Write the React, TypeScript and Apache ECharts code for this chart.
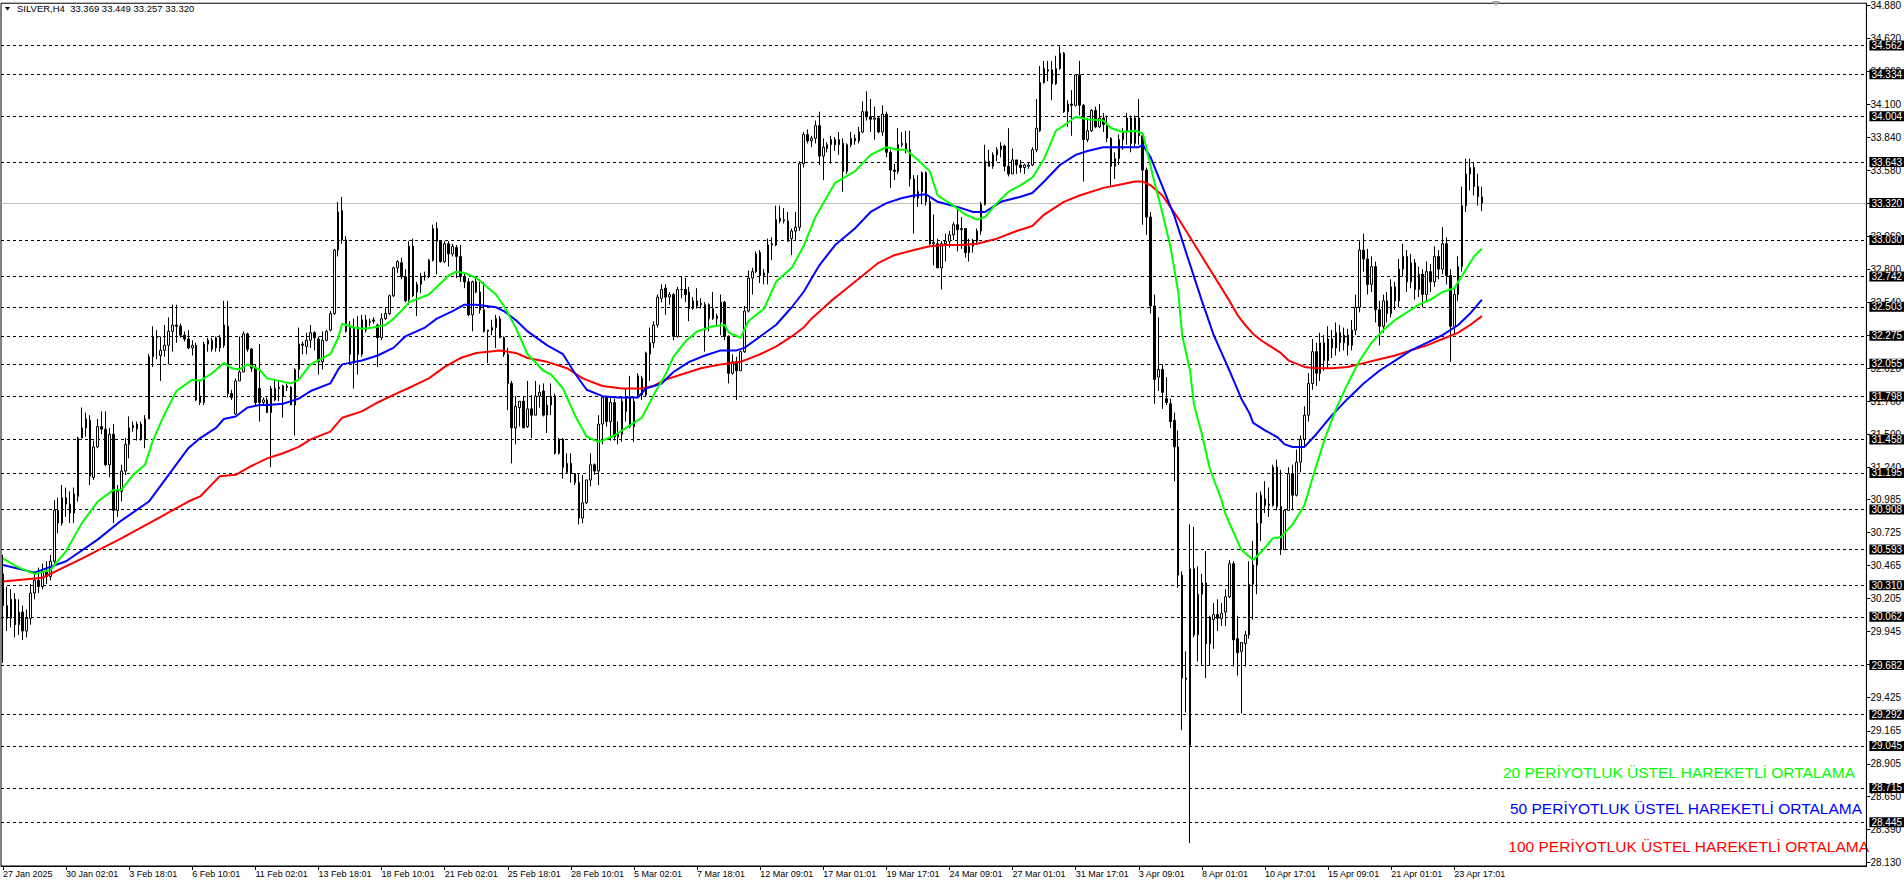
import React, { useEffect, useRef } from "react";
import * as echarts from "echarts";

const FONT = '"Liberation Sans", Arial, sans-serif';

// [open, high, low, close] per H4 bar, 27 Jan 2025 -> 23 Apr 2025
const ohlc: number[][] = [
  [30.40,30.55,29.70,30.15],[30.15,30.30,29.95,30.05],[30.05,30.28,29.98,30.20],[30.20,30.25,29.90,30.00],[30.00,30.20,29.92,30.10],
  [30.10,30.15,29.88,29.95],[29.95,30.12,29.90,30.05],[30.05,30.32,30.00,30.25],[30.25,30.42,30.20,30.35],[30.35,30.45,30.25,30.30],
  [30.30,30.48,30.28,30.42],[30.42,30.50,30.32,30.38],[30.38,30.55,30.35,30.50],[30.50,30.98,30.48,30.90],[30.90,31.00,30.72,30.80],
  [30.80,31.10,30.78,31.00],[31.00,31.08,30.85,30.95],[30.95,31.05,30.80,30.88],[30.88,31.08,30.80,31.03],[31.01,31.48,30.97,31.47],
  [31.47,31.71,31.47,31.55],[31.55,31.67,31.48,31.62],[31.61,31.65,31.10,31.17],[31.16,31.45,31.14,31.40],[31.40,31.62,31.39,31.56],
  [31.56,31.68,31.50,31.54],[31.54,31.68,31.25,31.26],[31.26,31.55,31.16,31.50],[31.50,31.58,30.80,30.90],[30.90,31.10,30.85,31.05],
  [31.05,31.26,30.97,31.21],[31.21,31.47,31.18,31.42],[31.42,31.64,31.31,31.55],[31.55,31.60,31.52,31.57],[31.54,31.60,31.45,31.58],
  [31.58,31.60,31.45,31.46],[31.46,31.65,31.39,31.62],[31.62,32.13,31.62,32.11],[32.11,32.35,32.03,32.27],[32.26,32.32,32.09,32.27],
  [32.12,32.27,31.92,32.16],[32.16,32.36,32.11,32.20],[32.20,32.42,32.05,32.31],[32.31,32.52,32.15,32.36],[32.36,32.52,32.22,32.35],
  [32.35,32.37,32.26,32.28],[32.28,32.31,32.23,32.25],[32.25,32.32,32.17,32.18],[32.18,32.24,32.12,32.20],[32.20,32.22,31.76,31.77],
  [31.80,31.93,31.73,31.75],[31.75,32.23,31.73,32.21],[32.21,32.26,32.15,32.24],[32.17,32.26,32.15,32.24],[32.18,32.27,32.15,32.26],
  [32.26,32.28,32.15,32.18],[32.20,32.55,32.18,32.36],[32.35,32.55,31.79,31.82],[31.82,31.85,31.77,31.79],[31.66,31.94,31.65,31.92],
  [31.92,32.27,31.92,31.99],[31.99,32.31,31.99,32.29],[32.29,32.30,32.15,32.17],[32.17,32.18,31.99,32.02],[32.02,32.05,31.73,31.75],
  [31.86,32.21,31.60,31.75],[31.75,31.79,31.73,31.77],[31.77,31.79,31.67,31.67],[31.67,31.88,31.24,31.86],[31.77,31.93,31.76,31.86],
  [31.86,31.92,31.76,31.87],[31.80,31.89,31.63,31.88],[31.88,31.90,31.84,31.87],[31.87,31.88,31.73,31.73],[31.73,32.02,31.49,32.01],
  [32.01,32.34,31.94,32.21],[32.20,32.23,32.13,32.21],[32.19,32.30,32.13,32.24],[32.24,32.36,32.18,32.30],[32.30,32.31,32.16,32.26],
  [32.25,32.27,31.97,32.07],[32.07,32.31,32.01,32.24],[32.24,32.32,32.23,32.31],[32.32,32.47,32.31,32.45],[32.45,32.96,32.44,32.95],
  [32.95,33.33,32.90,33.25],[33.26,33.37,33.00,33.03],[33.03,33.06,32.30,32.31],[32.34,32.39,32.06,32.13],[32.06,32.41,31.86,32.34],
  [32.34,32.43,31.97,32.13],[32.13,32.44,32.11,32.40],[32.40,32.44,32.30,32.32],[32.38,32.41,32.35,32.39],[32.40,32.42,32.37,32.39],
  [32.36,32.37,32.03,32.26],[32.26,32.45,32.24,32.41],[32.41,32.50,32.40,32.45],[32.45,32.60,32.44,32.59],[32.59,32.82,32.58,32.81],
  [32.81,32.87,32.77,32.86],[32.85,32.89,32.72,32.74],[32.74,32.80,32.54,32.55],[32.56,33.02,32.52,32.98],[32.98,33.04,32.58,32.59],
  [32.62,32.70,32.43,32.68],[32.68,32.77,32.61,32.74],[32.74,32.78,32.71,32.75],[32.75,32.88,32.73,32.87],[32.87,33.15,32.86,33.12],
  [33.12,33.17,32.76,33.02],[33.02,33.03,32.85,32.86],[32.86,33.02,32.85,33.00],[33.00,33.02,32.82,32.92],[32.92,33.00,32.90,32.98],
  [32.97,32.99,32.73,32.90],[32.90,32.99,32.70,32.74],[32.74,32.77,32.65,32.70],[32.70,32.73,32.43,32.44],[32.44,32.71,32.31,32.70],
  [32.70,32.73,32.61,32.62],[32.62,32.72,32.45,32.48],[32.48,32.70,32.30,32.31],[32.31,32.32,32.06,32.32],[32.32,32.40,32.28,32.34],
  [32.34,32.44,32.18,32.41],[32.41,32.43,32.26,32.26],[32.26,32.27,32.11,32.13],[32.13,32.18,31.69,31.90],[31.90,31.92,31.27,31.55],
  [31.55,31.80,31.42,31.72],[31.71,31.76,31.56,31.76],[31.76,31.80,31.55,31.55],[31.56,31.92,31.55,31.70],[31.70,31.81,31.47,31.65],
  [31.65,31.92,31.65,31.80],[31.80,31.89,31.71,31.83],[31.84,31.90,31.64,31.65],[31.65,31.80,31.51,31.73],[31.73,31.90,31.65,31.80],
  [31.80,31.82,31.34,31.35],[31.35,31.47,31.34,31.46],[31.46,31.47,31.15,31.24],[31.20,31.35,31.19,31.27],[31.27,31.35,31.12,31.19],
  [31.19,31.19,31.10,31.12],[31.12,31.19,30.79,30.84],[30.84,31.18,30.80,30.96],[30.96,31.14,30.95,31.14],[31.14,31.35,31.09,31.26],
  [31.26,31.27,31.18,31.21],[31.21,31.65,31.10,31.58],[31.58,31.80,31.42,31.79],[31.79,31.79,31.56,31.60],[31.60,31.79,31.45,31.75],
  [31.75,31.78,31.45,31.48],[31.48,31.60,31.42,31.50],[31.50,31.80,31.44,31.76],[31.68,31.86,31.60,31.79],[31.79,31.96,31.55,31.56],
  [31.56,31.80,31.44,31.76],[31.81,31.98,31.80,31.96],[31.94,31.96,31.77,31.81],[31.81,32.15,31.80,32.14],[32.13,32.34,31.92,32.22],
  [32.22,32.39,32.18,32.36],[32.36,32.60,32.34,32.58],[32.57,32.68,32.54,32.64],[32.65,32.68,32.44,32.58],[32.58,32.62,32.52,32.60],
  [32.60,32.61,32.24,32.27],[32.27,32.66,32.26,32.64],[32.64,32.74,32.57,32.64],[32.64,32.73,32.54,32.60],[32.62,32.66,32.39,32.49],
  [32.49,32.58,32.48,32.55],[32.55,32.65,32.49,32.51],[32.52,32.57,32.49,32.53],[32.52,32.54,32.15,32.32],[32.41,32.53,32.31,32.52],
  [32.49,32.62,32.40,32.41],[32.41,32.45,32.36,32.43],[32.38,32.60,32.28,32.54],[32.54,32.55,32.24,32.27],[32.27,32.28,31.90,31.98],
  [31.98,32.13,31.97,32.07],[32.07,32.11,31.77,32.00],[32.00,32.16,32.00,32.15],[32.15,32.51,32.14,32.47],[32.47,32.79,32.46,32.73],
  [32.73,32.81,32.60,32.78],[32.78,32.94,32.77,32.92],[32.93,32.95,32.69,32.75],[32.75,32.80,32.68,32.77],[32.77,33.04,32.68,32.99],
  [33.00,33.05,32.87,32.99],[32.99,33.30,32.98,33.19],[33.20,33.30,33.16,33.18],[33.18,33.28,33.16,33.19],[33.18,33.25,33.02,33.02],
  [33.04,33.12,32.91,33.10],[33.10,33.25,33.03,33.13],[33.13,33.65,33.10,33.63],[33.63,33.88,33.60,33.86],[33.86,33.90,33.79,33.81],
  [33.81,33.85,33.76,33.83],[33.83,33.97,33.79,33.93],[33.93,34.04,33.62,33.69],[33.69,33.83,33.50,33.76],[33.75,33.80,33.72,33.78],
  [33.78,33.85,33.63,33.82],[33.82,33.84,33.73,33.78],[33.78,33.88,33.70,33.82],[33.79,33.83,33.41,33.57],[33.57,33.79,33.55,33.78],
  [33.78,33.88,33.76,33.83],[33.83,33.86,33.78,33.81],[33.81,33.92,33.79,33.88],[33.88,34.12,33.87,34.04],[34.04,34.20,33.97,34.00],
  [34.00,34.14,33.88,33.98],[33.98,34.08,33.82,33.99],[33.99,34.00,33.87,33.88],[33.88,34.09,33.85,34.02],[34.02,34.04,33.68,33.72],
  [33.72,33.74,33.44,33.58],[33.58,33.63,33.50,33.57],[33.57,33.91,33.55,33.78],[33.78,33.88,33.76,33.79],[33.79,33.89,33.71,33.74],
  [33.74,33.89,33.45,33.51],[33.51,33.54,33.08,33.36],[33.36,33.54,33.29,33.41],[33.41,33.57,33.31,33.56],[33.56,33.57,33.30,33.33],
  [33.33,33.36,32.99,33.00],[33.00,33.23,32.83,33.01],[33.00,33.04,32.81,32.81],[32.81,33.02,32.64,33.00],[33.00,33.08,32.86,33.02],
  [33.02,33.10,32.97,33.07],[33.07,33.17,33.03,33.15],[33.15,33.28,32.94,33.11],[33.11,33.21,32.96,33.12],[33.12,33.12,32.89,32.93],
  [32.93,33.04,32.86,32.98],[32.98,33.04,32.93,33.02],[33.02,33.12,32.99,33.10],[33.10,33.33,33.07,33.31],[33.31,33.78,33.30,33.65],
  [33.65,33.74,33.61,33.61],[33.61,33.72,33.59,33.70],[33.70,33.76,33.65,33.74],[33.74,33.80,33.68,33.77],[33.77,33.78,33.57,33.61],
  [33.61,33.91,33.53,33.55],[33.55,33.75,33.55,33.66],[33.66,33.66,33.55,33.62],[33.62,33.66,33.56,33.60],[33.60,33.63,33.55,33.62],
  [33.61,33.64,33.59,33.62],[33.62,33.76,33.61,33.74],[33.74,34.14,33.72,33.91],[33.89,34.40,33.88,34.27],[34.27,34.44,34.26,34.38],
  [34.37,34.44,34.28,34.36],[34.37,34.44,34.13,34.26],[34.26,34.48,34.25,34.38],[34.38,34.56,34.37,34.50],[34.50,34.51,34.03,34.04],
  [34.04,34.13,33.92,34.10],[34.10,34.21,33.85,34.09],[34.09,34.33,34.08,34.33],[34.33,34.44,34.01,34.09],[34.09,34.10,33.49,33.82],
  [33.82,33.99,33.80,33.89],[33.89,34.06,33.88,34.05],[34.05,34.08,33.91,33.92],[33.92,34.10,33.91,33.99],[33.99,34.03,33.88,33.94],
  [33.94,34.01,33.80,33.83],[33.83,33.84,33.45,33.61],[33.61,33.72,33.51,33.67],[33.67,33.86,33.62,33.82],[33.82,33.91,33.74,33.88],
  [33.88,34.03,33.78,33.99],[33.99,34.01,33.72,33.79],[33.79,34.01,33.76,33.99],[33.99,34.14,33.78,33.85],[33.85,33.88,33.15,33.58],
  [33.58,33.60,33.07,33.21],[33.21,33.25,32.45,32.51],[32.51,32.60,31.74,31.93],[31.95,32.42,31.84,32.01],[32.01,32.05,31.70,31.83],
  [31.78,31.95,31.73,31.75],[31.74,31.78,31.55,31.60],[31.61,31.67,31.13,31.40],[31.40,31.53,30.29,30.39],[30.39,30.42,29.17,29.58],
  [29.58,29.79,29.31,29.57],[29.05,30.79,28.28,30.44],[30.44,30.77,29.90,29.92],[29.92,30.46,29.71,30.24],[30.24,30.40,29.68,30.33],
  [30.33,30.58,29.58,29.85],[29.85,30.07,29.68,30.06],[30.04,30.17,29.81,30.08],[30.08,30.20,29.95,30.05],[30.05,30.17,29.99,30.09],
  [30.10,30.28,29.99,30.22],[30.22,30.51,30.21,30.48],[30.48,30.50,29.67,29.88],[29.89,30.07,29.60,29.78],[29.79,29.86,29.30,29.86],
  [29.85,29.95,29.67,29.92],[29.92,30.50,29.89,30.32],[30.32,30.66,30.04,30.47],[30.47,31.04,30.24,30.80],[30.80,31.05,30.66,31.02],
  [30.99,31.13,30.88,30.94],[30.94,31.08,30.85,30.95],[30.94,31.26,30.93,31.24],[31.24,31.30,30.90,30.93],[30.93,31.22,30.55,30.59],
  [30.59,30.91,30.59,30.90],[30.90,31.24,30.90,31.19],[31.19,31.26,30.90,31.02],[31.02,31.38,31.01,31.28],[31.28,31.49,31.20,31.46],
  [31.46,31.72,31.40,31.65],[31.65,31.98,31.60,31.90],[31.90,32.25,31.85,32.15],[32.15,32.22,31.88,31.98],[31.98,32.30,31.92,32.22],
  [32.22,32.28,32.00,32.08],[32.08,32.35,32.02,32.25],[32.25,32.32,32.10,32.18],[32.18,32.38,32.12,32.30],[32.30,32.36,32.15,32.22],
  [32.22,32.34,32.16,32.28],[32.28,32.33,32.12,32.20],[32.20,32.40,32.16,32.32],[32.32,32.60,32.28,32.50],[32.50,33.02,32.46,32.95],
  [32.95,33.08,32.78,32.88],[32.88,32.96,32.60,32.68],[32.68,32.90,32.62,32.82],[32.82,32.86,32.38,32.48],[32.48,32.55,32.20,32.35],
  [32.35,32.60,32.30,32.55],[32.55,32.62,32.38,32.45],[32.45,32.72,32.42,32.66],[32.66,32.70,32.48,32.55],[32.55,32.88,32.50,32.80],
  [32.80,33.00,32.74,32.90],[32.90,32.95,32.62,32.70],[32.70,32.92,32.65,32.85],[32.85,32.88,32.56,32.64],[32.64,32.82,32.58,32.76],
  [32.76,32.80,32.50,32.60],[32.60,32.86,32.55,32.78],[32.78,32.84,32.62,32.70],[32.70,32.98,32.66,32.90],[32.90,32.95,32.72,32.80],
  [32.80,33.13,32.76,33.00],[33.00,33.05,32.68,32.75],[32.75,32.80,32.07,32.35],[32.35,32.66,32.28,32.60],[32.60,32.90,32.55,32.82],
  [32.82,33.45,32.78,33.30],[33.30,33.67,33.25,33.55],[33.55,33.67,33.42,33.60],[33.60,33.64,33.38,33.45],[33.45,33.55,33.30,33.37],
  [33.369,33.449,33.257,33.320],
];

// moving averages: [bar index, value]
const ema20: number[][] = [
  [0,30.52],[4,30.45],[8,30.40],[12,30.43],[16,30.58],[20,30.80],[24,30.97],[28,31.06],[30,31.06],[33,31.18],[36,31.26],[38,31.45],
  [41,31.66],[44,31.84],[48,31.93],[50,31.92],[53,31.98],[56,32.06],[58,32.02],[60,32.01],[62,32.05],[65,32.01],[67,31.94],[70,31.92],
  [73,31.90],[75,31.93],[78,32.05],[83,32.13],[85,32.26],[86,32.37],[89,32.34],[91,32.33],[94,32.34],[97,32.36],[99,32.41],[101,32.47],
  [103,32.54],[108,32.60],[110,32.66],[113,32.75],[115,32.78],[117,32.77],[120,32.73],[125,32.60],[127,32.51],[130,32.34],[133,32.13],
  [137,32.00],[139,31.97],[142,31.86],[145,31.65],[148,31.48],[151,31.44],[152,31.45],[155,31.49],[158,31.55],[162,31.63],[165,31.81],
  [168,31.97],[170,32.11],[173,32.23],[176,32.31],[180,32.35],[183,32.36],[184,32.30],[187,32.26],[189,32.39],[193,32.49],[196,32.70],
  [200,32.81],[203,32.98],[206,33.21],[211,33.48],[216,33.57],[220,33.70],[224,33.76],[227,33.74],[229,33.74],[232,33.66],[235,33.57],
  [237,33.38],[241,33.30],[244,33.23],[247,33.19],[249,33.21],[252,33.32],[255,33.41],[258,33.46],[261,33.52],[264,33.67],[267,33.89],
  [269,33.93],[272,34.00],[275,33.98],[279,33.97],[281,33.91],[284,33.88],[287,33.89],[289,33.87],[290,33.74],[291,33.61],[292,33.48],
  [294,33.24],[296,32.98],[298,32.62],[299,32.28],[301,32.00],[302,31.73],[304,31.50],[306,31.23],[309,30.98],[310,30.87],[312,30.73],
  [314,30.59],[317,30.51],[319,30.57],[322,30.68],[324,30.69],[327,30.79],[330,30.94],[332,31.15],[335,31.45],[338,31.70],[341,31.90],
  [344,32.08],[347,32.22],[350,32.32],[353,32.40],[356,32.46],[359,32.52],[362,32.56],[365,32.62],[368,32.65],[371,32.80],[373,32.90],
  [375,32.96],
];
const ema50: number[][] = [
  [0,30.47],[8,30.41],[16,30.50],[24,30.67],[30,30.82],[37,30.97],[42,31.18],[47,31.39],[50,31.47],[54,31.55],[56,31.62],[59,31.64],
  [62,31.71],[65,31.73],[67,31.73],[71,31.74],[75,31.78],[78,31.84],[83,31.90],[85,32.01],[86,32.05],[91,32.08],[95,32.12],[99,32.18],
  [102,32.27],[107,32.34],[110,32.41],[114,32.47],[117,32.52],[120,32.52],[125,32.50],[127,32.47],[130,32.40],[133,32.31],[138,32.20],
  [142,32.13],[145,31.98],[148,31.85],[152,31.80],[156,31.79],[161,31.79],[163,31.86],[167,31.90],[170,31.99],[174,32.07],[178,32.12],
  [182,32.16],[186,32.16],[188,32.18],[192,32.27],[196,32.36],[200,32.50],[203,32.62],[207,32.83],[211,32.99],[216,33.12],[220,33.25],
  [224,33.32],[228,33.36],[231,33.38],[234,33.39],[237,33.33],[242,33.29],[246,33.25],[249,33.25],[253,33.33],[258,33.37],[261,33.40],
  [264,33.49],[268,33.62],[272,33.70],[275,33.73],[279,33.76],[284,33.76],[288,33.76],[289,33.78],[291,33.68],[294,33.45],[297,33.22],
  [300,32.93],[304,32.55],[307,32.28],[309,32.14],[311,32.00],[314,31.78],[316,31.67],[317,31.59],[320,31.53],[323,31.48],[325,31.42],
  [327,31.40],[330,31.40],[333,31.50],[337,31.65],[341,31.78],[345,31.90],[349,32.00],[353,32.08],[357,32.16],[361,32.22],[365,32.28],
  [369,32.36],[372,32.45],[375,32.56],
];
const ema100: number[][] = [
  [0,30.34],[10,30.37],[20,30.52],[30,30.68],[40,30.85],[47,30.97],[50,31.01],[55,31.17],[59,31.18],[63,31.25],[67,31.31],[71,31.35],
  [75,31.40],[78,31.46],[83,31.52],[86,31.63],[91,31.68],[95,31.75],[99,31.81],[104,31.88],[108,31.94],[112,32.03],[116,32.10],
  [120,32.14],[126,32.16],[130,32.14],[133,32.10],[138,32.07],[143,32.02],[147,31.94],[152,31.88],[157,31.86],[162,31.86],[165,31.88],
  [168,31.93],[172,31.97],[177,32.02],[182,32.05],[187,32.07],[192,32.13],[196,32.19],[200,32.27],[203,32.34],[205,32.41],[210,32.55],
  [214,32.65],[218,32.75],[222,32.85],[226,32.91],[231,32.95],[235,32.98],[239,32.99],[243,32.99],[247,33.00],[252,33.04],[257,33.10],
  [261,33.14],[264,33.23],[269,33.33],[273,33.38],[279,33.44],[284,33.47],[287,33.49],[289,33.49],[291,33.46],[294,33.38],[298,33.20],
  [303,32.95],[307,32.75],[311,32.55],[313,32.44],[315,32.36],[317,32.29],[319,32.24],[321,32.20],[324,32.14],[326,32.08],[330,32.03],
  [333,32.02],[337,32.02],[341,32.03],[345,32.06],[349,32.09],[353,32.12],[357,32.16],[361,32.20],[365,32.25],[369,32.30],[372,32.36],
  [375,32.43],
];

const levels: number[] = [
  34.562, 34.334, 34.004, 33.643, 33.030, 32.742, 32.503, 32.275, 32.055, 31.798, 31.458,
  31.195, 30.908, 30.593, 30.310, 30.062, 29.682, 29.292, 29.045, 28.715, 28.445,
];
const bidPrice = 33.320;

const yTicks: number[] = [
  28.130, 28.390, 28.650, 28.905, 29.165, 29.425, 29.685, 29.945, 30.205, 30.465, 30.725, 30.985, 31.240, 31.500,
  31.760, 32.020, 32.280, 32.540, 32.800, 33.060, 33.320, 33.580, 33.840, 34.100, 34.360, 34.620, 34.880,
];

const xTickLabels: string[] = [
  "27 Jan 2025", "30 Jan 02:01", "3 Feb 18:01", "6 Feb 10:01", "11 Feb 02:01", "13 Feb 18:01", "18 Feb 10:01",
  "21 Feb 02:01", "25 Feb 18:01", "28 Feb 10:01", "5 Mar 02:01", "7 Mar 18:01", "12 Mar 09:01", "17 Mar 01:01",
  "19 Mar 17:01", "24 Mar 09:01", "27 Mar 01:01", "31 Mar 17:01", "3 Apr 09:01", "8 Apr 01:01", "10 Apr 17:01",
  "15 Apr 09:01", "21 Apr 01:01", "23 Apr 17:01",
];
const BARS_PER_LABEL = 16;
const TOTAL_SLOTS = 473;

const legendItems = [
  { text: "20 PERİYOTLUK ÜSTEL HAREKETLİ ORTALAMA", color: "#00ff00" },
  { text: "50 PERİYOTLUK ÜSTEL HAREKETLİ ORTALAMA", color: "#0000ff" },
  { text: "100 PERİYOTLUK ÜSTEL HAREKETLİ ORTALAMA", color: "#ff0000" },
];

function buildOption() {
  const cats: string[] = [];
  for (let i = 0; i < TOTAL_SLOTS; i++) {
    const k = i / BARS_PER_LABEL;
    cats.push(i % BARS_PER_LABEL === 0 && k < xTickLabels.length ? xTickLabels[k] : "");
  }
  const candleData = ohlc.map(([o, h, l, c]) => [o, c, l, h]);
  const last = ohlc[ohlc.length - 1];
  const title = "SILVER,H4  " + last.map((v) => v.toFixed(3)).join(" ");
  const showCat = (_: number, v: string) => v !== "";

  const markData: any[] = levels.map((v) => ({ yAxis: v }));
  markData.push({ yAxis: bidPrice, lineStyle: { type: "solid", color: "#c0c0c0", width: 1 } });

  const lineSeries = (name: string, data: number[][], color: string) => ({
    name,
    type: "line",
    data,
    showSymbol: false,
    symbol: "none",
    smooth: false,
    z: 4,
    lineStyle: { color, width: 2 },
    silent: true,
  });

  const legendYs = [772, 808, 846];
  const legendXs = [1855, 1862, 1869];

  return {
    animation: false,
    backgroundColor: "#ffffff",
    grid: {
      left: 1,
      right: 32,
      top: 1,
      bottom: 20,
      show: true,
      borderColor: "#000",
      borderWidth: 1,
      containLabel: false,
    },
    xAxis: {
      type: "category",
      data: cats,
      boundaryGap: true,
      axisLine: { show: true, lineStyle: { color: "#000", width: 1 } },
      axisTick: {
        show: true,
        interval: showCat,
        alignWithLabel: true,
        length: 4,
        lineStyle: { color: "#000" },
      },
      axisLabel: {
        interval: showCat,
        align: "left",
        color: "#000",
        fontSize: 9,
        fontFamily: FONT,
        margin: 3,
      },
      splitLine: { show: false },
    },
    yAxis: {
      type: "value",
      position: "right",
      min: 28.1,
      max: 34.894,
      scale: true,
      axisLine: { show: true, lineStyle: { color: "#000", width: 1 } },
      axisTick: { show: true, customValues: yTicks, length: 4, lineStyle: { color: "#000" } },
      axisLabel: {
        customValues: yTicks,
        formatter: (v: number) => v.toFixed(3),
        color: "#000",
        fontSize: 10,
        fontFamily: FONT,
        margin: 4,
      },
      splitLine: { show: false },
    },
    series: [
      {
        type: "candlestick",
        data: candleData,
        barWidth: 2,
        z: 3,
        itemStyle: {
          color: "#ffffff",
          color0: "#000000",
          borderColor: "#000000",
          borderColor0: "#000000",
          borderColorDoji: "#000000",
          borderWidth: 1,
        },
        markLine: {
          silent: true,
          symbol: "none",
          animation: false,
          precision: 3,
          z: 2,
          lineStyle: { type: [3, 3], color: "#000", width: 1 },
          label: {
            show: true,
            position: "end",
            distance: 3,
            formatter: (p: any) => Number(p.value).toFixed(3),
            backgroundColor: "#000",
            color: "#fff",
            fontSize: 10,
            fontFamily: FONT,
            lineHeight: 10,
            padding: [0, 2, 0, 2],
          },
          data: markData,
        },
      },
      lineSeries("EMA100", ema100, "#ff0000"),
      lineSeries("EMA50", ema50, "#0000ff"),
      lineSeries("EMA20", ema20, "#00ff00"),
    ],
    graphic: [
      {
        type: "polygon",
        shape: { points: [[5, 7], [10, 7], [7.5, 10.5]] },
        style: { fill: "#000" },
        silent: true,
      },
      {
        type: "text",
        x: 17,
        y: 8,
        style: {
          text: title,
          fill: "#000",
          fontSize: 9.5,
          fontFamily: FONT,
          verticalAlign: "middle",
          align: "left",
        },
        silent: true,
      },
      {
        type: "polygon",
        shape: { points: [[1492, 1], [1500, 1], [1496, 6]] },
        style: { fill: "#a8a8a8" },
        silent: true,
      },
      ...legendItems.map((it, i) => ({
        type: "text",
        x: legendXs[i],
        y: legendYs[i],
        style: {
          text: it.text,
          fill: it.color,
          fontSize: 15.5,
          fontFamily: FONT,
          align: "right",
          verticalAlign: "middle",
        },
        silent: true,
      })),
    ],
  };
}

export default function App() {
  const ref = useRef<HTMLDivElement>(null);
  useEffect(() => {
    document.body.style.margin = "0";
    const chart = echarts.init(ref.current as HTMLDivElement, null, { renderer: "svg" });
    chart.setOption(buildOption() as any);
    return () => chart.dispose();
  }, []);
  return (
    <div
      style={{
        position: "fixed",
        left: 0,
        top: 0,
        width: 1904,
        height: 886,
        overflow: "hidden",
        background: "#fff",
      }}
    >
      <div ref={ref} style={{ width: 1904, height: 886 }} />
    </div>
  );
}
